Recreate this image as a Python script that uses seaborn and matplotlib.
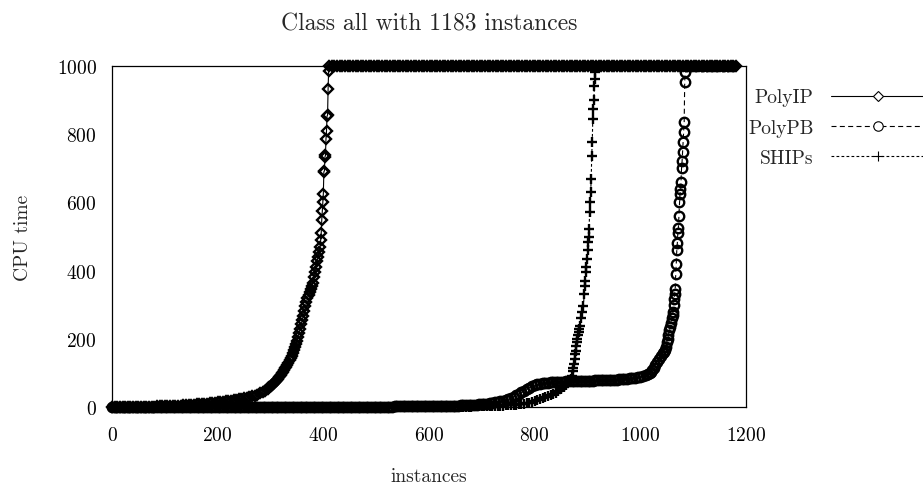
import matplotlib
matplotlib.use("Agg")
import matplotlib.pyplot as plt
from matplotlib.lines import Line2D
import pandas as pd
import seaborn as sns

TITLE = "Class all with 1183 instances"
X_LABEL = "instances"
Y_LABEL = "CPU time"
SERIES = ["PolyIP", "PolyPB", "SHIPs"]
X_TICKS = [0, 200, 400, 600, 800, 1000, 1200]
Y_TICKS = [0, 200, 400, 600, 800, 1000]

# ---------------- PolyIP (sorted CPU times) ----------------
polyip_low_start, polyip_low_step = 0, 5
polyip_low = [
    0, 0, 0, 0, 0.1, 0.1, 0.2, 0.2, 0.3, 0.4, 0.5, 0.6, 0.7, 0.8, 1.0, 1.1, 1.3, 1.5, 1.7, 1.9,
    2.1, 2.4, 2.7, 3.0, 3.4, 3.8, 4.2, 4.7, 5.2, 5.7, 6.3, 6.9, 7.5, 8.1, 8.8, 9.5, 10.2, 11, 11.8, 12.6,
    13.5, 14.5, 15.5, 16.5, 17.6, 18.8, 20, 21.5, 23, 24.5, 26, 27.5, 29, 31, 33.5, 36.5, 40, 44, 48, 52,
]
polyip_mid_start, polyip_mid_step = 296, 2
polyip_mid = [
    55, 58, 61, 64, 67, 70, 72, 75, 79, 83, 87, 91, 95, 99, 104, 109, 113, 118, 124, 130,
    137, 143, 150, 158, 166, 175, 185, 195, 206, 217, 229, 242, 255, 268, 281, 295, 308, 320, 328, 336,
    345, 355, 365, 380, 396, 412, 428, 440, 455,
]
polyip_rise_start, polyip_rise_step = 394, 1
polyip_rise = [470, 490, 510, 548, 574, 601, 625, 690, 692, 733, 738, 786, 809, 853, 856, 932, 985]
polyip_timeout_start, polyip_timeout_step = 411, 5
polyip_timeout = [
    1000, 1000, 1000, 1000, 1000, 1000, 1000, 1000, 1000, 1000, 1000, 1000, 1000, 1000, 1000, 1000, 1000, 1000, 1000, 1000,
    1000, 1000, 1000, 1000, 1000, 1000, 1000, 1000, 1000, 1000, 1000, 1000, 1000, 1000, 1000, 1000, 1000, 1000, 1000, 1000,
    1000, 1000, 1000, 1000, 1000, 1000, 1000, 1000, 1000, 1000, 1000, 1000, 1000, 1000, 1000, 1000, 1000, 1000, 1000, 1000,
    1000, 1000, 1000, 1000, 1000, 1000, 1000, 1000, 1000, 1000, 1000, 1000, 1000, 1000, 1000, 1000, 1000, 1000, 1000, 1000,
    1000, 1000, 1000, 1000, 1000, 1000, 1000, 1000, 1000, 1000, 1000, 1000, 1000, 1000, 1000, 1000, 1000, 1000, 1000, 1000,
    1000, 1000, 1000, 1000, 1000, 1000, 1000, 1000, 1000, 1000, 1000, 1000, 1000, 1000, 1000, 1000, 1000, 1000, 1000, 1000,
    1000, 1000, 1000, 1000, 1000, 1000, 1000, 1000, 1000, 1000, 1000, 1000, 1000, 1000, 1000, 1000, 1000, 1000, 1000, 1000,
    1000, 1000, 1000, 1000, 1000, 1000, 1000, 1000, 1000, 1000, 1000, 1000, 1000, 1000, 1000,
]

# ---------------- PolyPB ----------------
polypb_low_start, polypb_low_step = 0, 5
polypb_low = [
    0, 0, 0, 0, 0, 0, 0, 0, 0, 0, 0, 0, 0, 0, 0, 0, 0, 0, 0, 0,
    0.1, 0.1, 0.1, 0.1, 0.1, 0.1, 0.1, 0.1, 0.1, 0.1, 0.1, 0.1, 0.1, 0.1, 0.1, 0.1, 0.1, 0.1, 0.1, 0.1,
    0.2, 0.2, 0.2, 0.2, 0.2, 0.2, 0.2, 0.2, 0.2, 0.2, 0.3, 0.3, 0.3, 0.3, 0.3, 0.3, 0.3, 0.3, 0.3, 0.3,
    0.3, 0.3, 0.3, 0.3, 0.3, 0.3, 0.3, 0.3, 0.3, 0.3, 0.4, 0.4, 0.4, 0.4, 0.4, 0.4, 0.4, 0.4, 0.4, 0.4,
    0.5, 0.5, 0.5, 0.5, 0.5, 0.5, 0.5, 0.5, 0.5, 0.5, 0.6, 0.6, 0.6, 0.6, 0.6, 0.6, 0.6, 0.6, 0.6, 0.6,
    0.8, 0.9, 1.0, 1.1, 1.2, 1.3, 1.4, 1.5, 1.6, 1.7, 1.7, 1.8, 1.8, 1.9, 1.9, 2.0, 2.0, 2.0, 2.0, 2.0,
    2.0, 2.1, 2.2, 2.4, 2.5, 2.7, 2.9, 3.1, 3.3, 3.5, 3.8, 4.1, 4.4, 4.8, 5.2, 5.6, 6.0, 6.5, 7.0, 7.5,
    8, 9, 10, 11, 12, 13.5, 15, 16.5, 18, 21, 24, 27, 30, 34, 38, 43, 48, 53, 57, 61,
    64, 66, 68, 69.5, 70.5, 71.5, 72, 72.5, 73, 73.5, 74, 74.5, 75, 75, 75.5, 76, 76, 76.5, 76.5, 77,
    77, 77.5, 77.5, 78, 78, 78.5, 78.5, 79, 79, 79.5, 80, 80.5, 81, 81.5, 82, 83, 84, 85, 86, 87.5,
    89, 91, 94, 97,
]
polypb_rise_x = [
    1018, 1020, 1022, 1025, 1028, 1032, 1036, 1040, 1043, 1045, 1047, 1048, 1050, 1052, 1053,
    1055, 1057, 1058, 1060, 1061, 1062, 1063, 1064, 1065, 1066, 1067, 1068, 1069, 1070, 1071,
    1072, 1073, 1074, 1075, 1076, 1077, 1078, 1079, 1080, 1081, 1082, 1083, 1084, 1085,
]
polypb_rise_y = [
    100, 104, 108, 115, 122, 132, 140, 150, 157, 162, 168, 175, 191, 200, 210,
    225, 235, 245, 262, 270, 280, 300, 318, 330, 345, 390, 420, 460, 480, 510,
    525, 560, 600, 625, 640, 660, 700, 720, 748, 777, 806, 836, 953, 982,
]
polypb_timeout_start, polypb_timeout_step = 1086, 10
polypb_timeout = [1000, 1000, 1000, 1000, 1000, 1000, 1000, 1000, 1000, 1000]

# ---------------- SHIPs ----------------
ships_low_start, ships_low_step = 0, 5
ships_low = [
    0, 0, 0, 0, 0, 0, 0, 0, 0, 0, 0, 0, 0, 0, 0, 0, 0, 0, 0, 0,
    0, 0, 0, 0, 0, 0, 0, 0, 0, 0, 0, 0, 0, 0, 0, 0, 0, 0, 0, 0,
    0.1, 0.1, 0.1, 0.1, 0.1, 0.1, 0.1, 0.1, 0.1, 0.1, 0.1, 0.1, 0.1, 0.1, 0.1, 0.1, 0.1, 0.1, 0.1, 0.1,
    0.1, 0.1, 0.1, 0.1, 0.1, 0.1, 0.1, 0.1, 0.1, 0.1, 0.1, 0.1, 0.1, 0.1, 0.1, 0.1, 0.1, 0.1, 0.1, 0.1,
    0.2, 0.2, 0.2, 0.2, 0.2, 0.2, 0.2, 0.2, 0.2, 0.2, 0.3, 0.3, 0.3, 0.3, 0.3, 0.3, 0.3, 0.3, 0.3, 0.3,
    0.4, 0.4, 0.4, 0.4, 0.4, 0.4, 0.4, 0.4, 0.4, 0.4, 0.5, 0.5, 0.5, 0.5, 0.5, 0.5, 0.5, 0.5, 0.5, 0.5,
    0.6, 0.6, 0.7, 0.7, 0.8, 0.8, 0.9, 0.9, 1.0, 1.0, 1.1, 1.1, 1.2, 1.2, 1.3, 1.3, 1.4, 1.5, 1.6, 1.7,
    1.8, 2, 2.2, 2.5, 2.8, 3.1, 3.5, 3.9, 4.3, 4.8, 5.3, 5.9, 6.5, 7.2, 8, 9, 10, 11.5, 13, 15.5,
    18, 20.5, 23, 25.5, 28, 31.5, 35, 38.5, 42, 47, 52, 58, 65, 75,
]
ships_rise_x = [
    868, 870, 872, 873, 874, 876, 877, 878, 879, 880, 881, 882, 883, 884, 886, 888, 890, 892, 894, 895,
    896, 897, 898, 899, 900, 901, 902, 903, 904, 905, 906, 907, 908, 909, 910, 911, 912, 913, 914, 915,
]
ships_rise_y = [
    83, 91, 105, 115, 125, 141, 155, 165, 178, 191, 200, 210, 220, 230, 238, 262, 280, 296, 330, 355,
    370, 396, 410, 434, 460, 484, 500, 522, 572, 600, 630, 668, 736, 777, 845, 874, 900, 941, 962, 982,
]
ships_timeout_start, ships_timeout_step = 916, 10
ships_timeout = [
    1000, 1000, 1000, 1000, 1000, 1000, 1000, 1000, 1000, 1000, 1000, 1000, 1000, 1000,
    1000, 1000, 1000, 1000, 1000, 1000, 1000, 1000, 1000, 1000, 1000, 1000, 1000,
]


def grid(start, step, values):
    return [start + step * i for i in range(len(values))]


def frame(parts):
    xs, ys = [], []
    for x, y in parts:
        xs += list(x)
        ys += list(y)
    return pd.DataFrame({"instance": xs, "time": ys})


df_polyip = frame([
    (grid(polyip_low_start, polyip_low_step, polyip_low), polyip_low),
    (grid(polyip_mid_start, polyip_mid_step, polyip_mid), polyip_mid),
    (grid(polyip_rise_start, polyip_rise_step, polyip_rise), polyip_rise),
    (grid(polyip_timeout_start, polyip_timeout_step, polyip_timeout), polyip_timeout),
])
df_polypb = frame([
    (grid(polypb_low_start, polypb_low_step, polypb_low), polypb_low),
    (polypb_rise_x, polypb_rise_y),
    (grid(polypb_timeout_start, polypb_timeout_step, polypb_timeout), polypb_timeout),
])
df_ships = frame([
    (grid(ships_low_start, ships_low_step, ships_low), ships_low),
    (ships_rise_x, ships_rise_y),
    (grid(ships_timeout_start, ships_timeout_step, ships_timeout), ships_timeout),
])

sns.set_style("white")
plt.rcParams.update({
    "font.family": ["cmr10", "DejaVu Serif"],
    "mathtext.fontset": "cm",
    "axes.unicode_minus": False,
    "axes.formatter.use_mathtext": True,
    "lines.scale_dashes": False,
})

fig = plt.figure(figsize=(9.23, 4.89), dpi=100)
ax = fig.add_axes([112 / 923, 1 - 408 / 489, (746 - 112) / 923, (408 - 67) / 489])

styles = {
    "PolyIP": dict(marker="D", ms=5.6, ls="-"),
    "PolyPB": dict(marker="o", ms=6.8, ls=(0, (3.6, 2.4))),
    "SHIPs": dict(marker="+", ms=6.8, ls=(0, (2.0, 1.6))),
}
LW = 0.8
for name, df in zip(SERIES, [df_polyip, df_polypb, df_ships]):
    st = styles[name]
    sns.lineplot(data=df, x="instance", y="time", ax=ax, color="black",
                 estimator=None, sort=False, legend=False,
                 marker=st["marker"], markersize=st["ms"],
                 markerfacecolor="none", markeredgecolor="black",
                 markeredgewidth=1.7, linewidth=LW, linestyle=st["ls"],
                 clip_on=False)

ax.set_xlim(0, 1200)
ax.set_ylim(0, 1000)
ax.set_xticks(X_TICKS)
ax.set_yticks(Y_TICKS)
ax.tick_params(direction="in", length=11.5, width=0.8, colors="black", labelsize=14)
ax.tick_params(axis="x", pad=14)
ax.tick_params(axis="y", pad=11)
for s in ax.spines.values():
    s.set_visible(True)
    s.set_color("black")
    s.set_linewidth(0.9)

ax.set_title(TITLE, fontsize=17, pad=26)
ax.set_xlabel(X_LABEL, fontsize=14, labelpad=16)
ax.set_ylabel(Y_LABEL, fontsize=14, labelpad=18)

handles = [
    Line2D([], [], color="black", lw=LW, ls=styles[n]["ls"], marker=styles[n]["marker"],
           ms=styles[n]["ms"], mfc="white", mec="black", mew=0.8)
    for n in SERIES
]
leg = fig.legend(handles, SERIES, loc="center left", bbox_to_anchor=(748 / 923, 1 - 128.5 / 489),
                 frameon=False, markerfirst=False, handlelength=4.8, handletextpad=0.9,
                 labelspacing=0.62, borderpad=0, borderaxespad=0, numpoints=1, fontsize=14)
for col in leg._legend_handle_box.get_children():
    col.align = "right"

fig.savefig("out.png", dpi=100)
